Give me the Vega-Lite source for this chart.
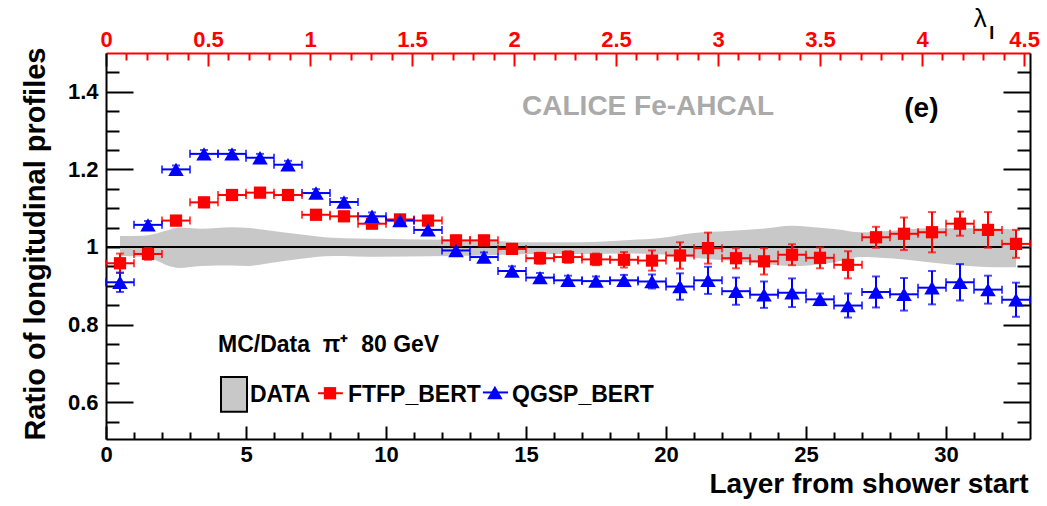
{
  "$schema": "https://vega.github.io/schema/vega-lite/v6.json",
  "width": 924,
  "height": 386,
  "autosize": {"type": "none"},
  "padding": {"left": 106, "top": 53, "right": 17, "bottom": 67},
  "background": "white",
  "config": {"view": {"stroke": null}},
  "data": {"values": [{"k": 1}]},
  "datasets": {
    "pts": [
      {"l": 0.5, "x0": 0, "x1": 1, "m": "FTFP_BERT", "r": 0.958, "lo": 0.933, "hi": 0.983},
      {"l": 1.5, "x0": 1, "x1": 2, "m": "FTFP_BERT", "r": 0.982, "lo": 0.967, "hi": 0.997},
      {"l": 2.5, "x0": 2, "x1": 3, "m": "FTFP_BERT", "r": 1.068, "lo": 1.056, "hi": 1.080},
      {"l": 3.5, "x0": 3, "x1": 4, "m": "FTFP_BERT", "r": 1.115, "lo": 1.103, "hi": 1.127},
      {"l": 4.5, "x0": 4, "x1": 5, "m": "FTFP_BERT", "r": 1.134, "lo": 1.124, "hi": 1.144},
      {"l": 5.5, "x0": 5, "x1": 6, "m": "FTFP_BERT", "r": 1.140, "lo": 1.130, "hi": 1.150},
      {"l": 6.5, "x0": 6, "x1": 7, "m": "FTFP_BERT", "r": 1.134, "lo": 1.124, "hi": 1.144},
      {"l": 7.5, "x0": 7, "x1": 8, "m": "FTFP_BERT", "r": 1.083, "lo": 1.073, "hi": 1.093},
      {"l": 8.5, "x0": 8, "x1": 9, "m": "FTFP_BERT", "r": 1.079, "lo": 1.069, "hi": 1.089},
      {"l": 9.5, "x0": 9, "x1": 10, "m": "FTFP_BERT", "r": 1.060, "lo": 1.050, "hi": 1.070},
      {"l": 10.5, "x0": 10, "x1": 11, "m": "FTFP_BERT", "r": 1.071, "lo": 1.061, "hi": 1.081},
      {"l": 11.5, "x0": 11, "x1": 12, "m": "FTFP_BERT", "r": 1.068, "lo": 1.056, "hi": 1.080},
      {"l": 12.5, "x0": 12, "x1": 13, "m": "FTFP_BERT", "r": 1.017, "lo": 1.005, "hi": 1.029},
      {"l": 13.5, "x0": 13, "x1": 14, "m": "FTFP_BERT", "r": 1.017, "lo": 1.005, "hi": 1.029},
      {"l": 14.5, "x0": 14, "x1": 15, "m": "FTFP_BERT", "r": 0.995, "lo": 0.983, "hi": 1.007},
      {"l": 15.5, "x0": 15, "x1": 16, "m": "FTFP_BERT", "r": 0.971, "lo": 0.957, "hi": 0.985},
      {"l": 16.5, "x0": 16, "x1": 17, "m": "FTFP_BERT", "r": 0.974, "lo": 0.959, "hi": 0.989},
      {"l": 17.5, "x0": 17, "x1": 18, "m": "FTFP_BERT", "r": 0.968, "lo": 0.953, "hi": 0.983},
      {"l": 18.5, "x0": 18, "x1": 19, "m": "FTFP_BERT", "r": 0.967, "lo": 0.947, "hi": 0.987},
      {"l": 19.5, "x0": 19, "x1": 20, "m": "FTFP_BERT", "r": 0.965, "lo": 0.939, "hi": 0.991},
      {"l": 20.5, "x0": 20, "x1": 21, "m": "FTFP_BERT", "r": 0.978, "lo": 0.944, "hi": 1.012},
      {"l": 21.5, "x0": 21, "x1": 22, "m": "FTFP_BERT", "r": 0.997, "lo": 0.957, "hi": 1.037},
      {"l": 22.5, "x0": 22, "x1": 23, "m": "FTFP_BERT", "r": 0.971, "lo": 0.945, "hi": 0.997},
      {"l": 23.5, "x0": 23, "x1": 24, "m": "FTFP_BERT", "r": 0.963, "lo": 0.929, "hi": 0.997},
      {"l": 24.5, "x0": 24, "x1": 25, "m": "FTFP_BERT", "r": 0.980, "lo": 0.953, "hi": 1.007},
      {"l": 25.5, "x0": 25, "x1": 26, "m": "FTFP_BERT", "r": 0.972, "lo": 0.945, "hi": 0.999},
      {"l": 26.5, "x0": 26, "x1": 27, "m": "FTFP_BERT", "r": 0.954, "lo": 0.919, "hi": 0.989},
      {"l": 27.5, "x0": 27, "x1": 28, "m": "FTFP_BERT", "r": 1.025, "lo": 0.998, "hi": 1.052},
      {"l": 28.5, "x0": 28, "x1": 29, "m": "FTFP_BERT", "r": 1.034, "lo": 0.992, "hi": 1.076},
      {"l": 29.5, "x0": 29, "x1": 30, "m": "FTFP_BERT", "r": 1.038, "lo": 0.986, "hi": 1.090},
      {"l": 30.5, "x0": 30, "x1": 31, "m": "FTFP_BERT", "r": 1.060, "lo": 1.029, "hi": 1.091},
      {"l": 31.5, "x0": 31, "x1": 32, "m": "FTFP_BERT", "r": 1.044, "lo": 0.998, "hi": 1.090},
      {"l": 32.5, "x0": 32, "x1": 33, "m": "FTFP_BERT", "r": 1.008, "lo": 0.972, "hi": 1.044},
      {"l": 0.5, "x0": 0, "x1": 1, "m": "QGSP_BERT", "r": 0.909, "lo": 0.884, "hi": 0.934},
      {"l": 1.5, "x0": 1, "x1": 2, "m": "QGSP_BERT", "r": 1.057, "lo": 1.047, "hi": 1.067},
      {"l": 2.5, "x0": 2, "x1": 3, "m": "QGSP_BERT", "r": 1.200, "lo": 1.190, "hi": 1.210},
      {"l": 3.5, "x0": 3, "x1": 4, "m": "QGSP_BERT", "r": 1.240, "lo": 1.230, "hi": 1.250},
      {"l": 4.5, "x0": 4, "x1": 5, "m": "QGSP_BERT", "r": 1.240, "lo": 1.230, "hi": 1.250},
      {"l": 5.5, "x0": 5, "x1": 6, "m": "QGSP_BERT", "r": 1.230, "lo": 1.220, "hi": 1.240},
      {"l": 6.5, "x0": 6, "x1": 7, "m": "QGSP_BERT", "r": 1.212, "lo": 1.202, "hi": 1.222},
      {"l": 7.5, "x0": 7, "x1": 8, "m": "QGSP_BERT", "r": 1.139, "lo": 1.129, "hi": 1.149},
      {"l": 8.5, "x0": 8, "x1": 9, "m": "QGSP_BERT", "r": 1.116, "lo": 1.106, "hi": 1.126},
      {"l": 9.5, "x0": 9, "x1": 10, "m": "QGSP_BERT", "r": 1.079, "lo": 1.069, "hi": 1.089},
      {"l": 10.5, "x0": 10, "x1": 11, "m": "QGSP_BERT", "r": 1.068, "lo": 1.058, "hi": 1.078},
      {"l": 11.5, "x0": 11, "x1": 12, "m": "QGSP_BERT", "r": 1.044, "lo": 1.032, "hi": 1.056},
      {"l": 12.5, "x0": 12, "x1": 13, "m": "QGSP_BERT", "r": 0.991, "lo": 0.979, "hi": 1.003},
      {"l": 13.5, "x0": 13, "x1": 14, "m": "QGSP_BERT", "r": 0.974, "lo": 0.962, "hi": 0.986},
      {"l": 14.5, "x0": 14, "x1": 15, "m": "QGSP_BERT", "r": 0.938, "lo": 0.926, "hi": 0.950},
      {"l": 15.5, "x0": 15, "x1": 16, "m": "QGSP_BERT", "r": 0.921, "lo": 0.909, "hi": 0.933},
      {"l": 16.5, "x0": 16, "x1": 17, "m": "QGSP_BERT", "r": 0.914, "lo": 0.902, "hi": 0.926},
      {"l": 17.5, "x0": 17, "x1": 18, "m": "QGSP_BERT", "r": 0.912, "lo": 0.900, "hi": 0.924},
      {"l": 18.5, "x0": 18, "x1": 19, "m": "QGSP_BERT", "r": 0.914, "lo": 0.900, "hi": 0.928},
      {"l": 19.5, "x0": 19, "x1": 20, "m": "QGSP_BERT", "r": 0.911, "lo": 0.893, "hi": 0.929},
      {"l": 20.5, "x0": 20, "x1": 21, "m": "QGSP_BERT", "r": 0.898, "lo": 0.864, "hi": 0.932},
      {"l": 21.5, "x0": 21, "x1": 22, "m": "QGSP_BERT", "r": 0.914, "lo": 0.879, "hi": 0.949},
      {"l": 22.5, "x0": 22, "x1": 23, "m": "QGSP_BERT", "r": 0.886, "lo": 0.851, "hi": 0.921},
      {"l": 23.5, "x0": 23, "x1": 24, "m": "QGSP_BERT", "r": 0.877, "lo": 0.843, "hi": 0.911},
      {"l": 24.5, "x0": 24, "x1": 25, "m": "QGSP_BERT", "r": 0.882, "lo": 0.845, "hi": 0.919},
      {"l": 25.5, "x0": 25, "x1": 26, "m": "QGSP_BERT", "r": 0.865, "lo": 0.850, "hi": 0.880},
      {"l": 26.5, "x0": 26, "x1": 27, "m": "QGSP_BERT", "r": 0.849, "lo": 0.818, "hi": 0.880},
      {"l": 27.5, "x0": 27, "x1": 28, "m": "QGSP_BERT", "r": 0.884, "lo": 0.844, "hi": 0.924},
      {"l": 28.5, "x0": 28, "x1": 29, "m": "QGSP_BERT", "r": 0.878, "lo": 0.836, "hi": 0.920},
      {"l": 29.5, "x0": 29, "x1": 30, "m": "QGSP_BERT", "r": 0.895, "lo": 0.852, "hi": 0.938},
      {"l": 30.5, "x0": 30, "x1": 31, "m": "QGSP_BERT", "r": 0.909, "lo": 0.862, "hi": 0.956},
      {"l": 31.5, "x0": 31, "x1": 32, "m": "QGSP_BERT", "r": 0.890, "lo": 0.854, "hi": 0.926},
      {"l": 32.5, "x0": 32, "x1": 33, "m": "QGSP_BERT", "r": 0.864, "lo": 0.820, "hi": 0.908}
    ],
    "band": [
      {"x": 0.5, "lo": 0.977, "hi": 1.028},
      {"x": 1.3, "lo": 0.975, "hi": 1.029},
      {"x": 1.8, "lo": 0.965, "hi": 1.035},
      {"x": 2.2, "lo": 0.952, "hi": 1.043},
      {"x": 2.6, "lo": 0.946, "hi": 1.050},
      {"x": 3.4, "lo": 0.951, "hi": 1.047},
      {"x": 4.5, "lo": 0.952, "hi": 1.051},
      {"x": 5.1, "lo": 0.951, "hi": 1.049},
      {"x": 5.7, "lo": 0.957, "hi": 1.044},
      {"x": 6.9, "lo": 0.969, "hi": 1.033},
      {"x": 8.1, "lo": 0.977, "hi": 1.024},
      {"x": 9.8, "lo": 0.975, "hi": 1.021},
      {"x": 11.5, "lo": 0.976, "hi": 1.019},
      {"x": 13.4, "lo": 0.978, "hi": 1.017},
      {"x": 15.1, "lo": 0.982, "hi": 1.012},
      {"x": 16.9, "lo": 0.982, "hi": 1.012},
      {"x": 18.7, "lo": 0.983, "hi": 1.018},
      {"x": 19.8, "lo": 0.981, "hi": 1.023},
      {"x": 21.0, "lo": 0.972, "hi": 1.036},
      {"x": 22.2, "lo": 0.965, "hi": 1.041},
      {"x": 23.4, "lo": 0.957, "hi": 1.047},
      {"x": 24.5, "lo": 0.951, "hi": 1.055},
      {"x": 25.7, "lo": 0.957, "hi": 1.048},
      {"x": 26.3, "lo": 0.965, "hi": 1.044},
      {"x": 26.9, "lo": 0.974, "hi": 1.038},
      {"x": 28.1, "lo": 0.970, "hi": 1.042},
      {"x": 29.3, "lo": 0.961, "hi": 1.048},
      {"x": 30.5, "lo": 0.952, "hi": 1.048},
      {"x": 31.7, "lo": 0.948, "hi": 1.047},
      {"x": 32.5, "lo": 0.948, "hi": 1.045}
    ]
  },
  "layer": [
    {
      "resolve": {"axis": {"x": "independent", "y": "independent"}},
      "layer": [
        {
          "data": {"name": "band"},
          "mark": {"type": "area", "color": "#c8c8c8", "interpolate": "monotone"},
          "encoding": {
            "x": {"field": "x", "type": "quantitative", "scale": {"domain": [0, 33], "nice": false, "zero": false},
              "axis": {"orient": "bottom", "values": [0, 5, 10, 15, 20, 25, 30], "format": "d", "tickSize": -13, "tickWidth": 2, "tickColor": "#000", "domain": true, "domainColor": "#000", "domainWidth": 2, "grid": false, "labelFont": "Liberation Sans", "labelFontSize": 22, "labelFontWeight": "bold", "labelColor": "#000", "labelPadding": 35, "labelBaseline": "alphabetic", "labelFlush": false, "labelOverlap": false, "labelBound": false, "title": "Layer from shower start", "titleFont": "Liberation Sans", "titleFontSize": 28, "titleFontWeight": "bold", "titleColor": "#000", "titleX": 922, "titleY": 53, "titleAlign": "right", "titleBaseline": "alphabetic", "titleAngle": 0}},
            "y": {"field": "lo", "type": "quantitative", "scale": {"domain": [0.505, 1.5], "nice": false, "zero": false},
              "axis": {"orient": "left", "values": [0.6, 0.8, 1, 1.2, 1.4], "format": "~g", "tickSize": -27, "tickWidth": 2, "tickColor": "#000", "domain": true, "domainColor": "#000", "domainWidth": 2, "grid": false, "labelFont": "Liberation Sans", "labelFontSize": 22, "labelFontWeight": "bold", "labelColor": "#000", "labelPadding": 35, "labelAlign": "right", "labelBaseline": "middle", "labelFlush": false, "labelOverlap": false, "labelBound": false, "title": "Ratio of longitudinal profiles", "titleFont": "Liberation Sans", "titleFontSize": 29, "titleFontWeight": "bold", "titleColor": "#000", "titleAngle": 270, "titleX": -62, "titleY": -6, "titleAlign": "right", "titleBaseline": "alphabetic"}},
            "y2": {"field": "hi"}
          }
        },
        {
          "mark": {"type": "rule", "color": "#000", "strokeWidth": 2},
          "encoding": {
            "x": {"datum": 0, "type": "quantitative", "scale": {"domain": [0, 33], "nice": false, "zero": false}, "axis": null},
            "x2": {"datum": 32},
            "y": {"datum": 1, "type": "quantitative", "scale": {"domain": [0.505, 1.5], "nice": false, "zero": false}, "axis": null}
          }
        },
        {
          "data": {"name": "pts"},
          "mark": {"type": "rule", "strokeWidth": 2},
          "encoding": {
            "x": {"field": "x0", "type": "quantitative", "scale": {"domain": [0, 33], "nice": false, "zero": false},
              "axis": {"orient": "bottom", "values": [1, 2, 3, 4, 6, 7, 8, 9, 11, 12, 13, 14, 16, 17, 18, 19, 21, 22, 23, 24, 26, 27, 28, 29, 31, 32], "tickSize": -7, "tickWidth": 2, "tickColor": "#000", "domain": false, "labels": false, "grid": false, "title": null}},
            "x2": {"field": "x1"},
            "y": {"field": "r", "type": "quantitative", "scale": {"domain": [0.505, 1.5], "nice": false, "zero": false},
              "axis": {"orient": "left", "values": [0.55, 0.65, 0.7, 0.75, 0.85, 0.9, 0.95, 1.05, 1.1, 1.15, 1.25, 1.3, 1.35, 1.45], "tickSize": -13, "tickWidth": 2, "tickColor": "#000", "domain": false, "labels": false, "grid": false, "title": null}},
            "color": {"field": "m", "type": "nominal", "scale": {"domain": ["FTFP_BERT", "QGSP_BERT"], "range": ["#ff0000", "#0000ff"]}, "legend": null}
          }
        },
        {
          "data": {"name": "pts"},
          "mark": {"type": "rule", "strokeWidth": 2},
          "encoding": {
            "x": {"field": "l", "type": "quantitative", "scale": {"domain": [0, 33], "nice": false, "zero": false}, "axis": null},
            "y": {"field": "lo", "type": "quantitative", "scale": {"domain": [0.505, 1.5], "nice": false, "zero": false},
              "axis": {"orient": "right", "values": [0.6, 0.8, 1, 1.2, 1.4], "tickSize": -27, "tickWidth": 2, "tickColor": "#000", "domain": true, "domainColor": "#000", "domainWidth": 2, "labels": false, "grid": false, "title": null}},
            "y2": {"field": "hi"},
            "color": {"field": "m", "type": "nominal", "scale": {"domain": ["FTFP_BERT", "QGSP_BERT"], "range": ["#ff0000", "#0000ff"]}, "legend": null}
          }
        },
        {
          "data": {"name": "pts"},
          "mark": {"type": "tick", "orient": "vertical", "size": 8, "thickness": 2},
          "encoding": {
            "x": {"field": "x0", "type": "quantitative", "scale": {"domain": [0, 33], "nice": false, "zero": false}, "axis": null},
            "y": {"field": "r", "type": "quantitative", "scale": {"domain": [0.505, 1.5], "nice": false, "zero": false},
              "axis": {"orient": "right", "values": [0.55, 0.65, 0.7, 0.75, 0.85, 0.9, 0.95, 1.05, 1.1, 1.15, 1.25, 1.3, 1.35, 1.45], "tickSize": -13, "tickWidth": 2, "tickColor": "#000", "domain": false, "labels": false, "grid": false, "title": null}},
            "color": {"field": "m", "type": "nominal", "scale": {"domain": ["FTFP_BERT", "QGSP_BERT"], "range": ["#ff0000", "#0000ff"]}, "legend": null}
          }
        },
        {
          "data": {"name": "pts"},
          "mark": {"type": "tick", "orient": "vertical", "size": 8, "thickness": 2},
          "encoding": {
            "x": {"field": "x1", "type": "quantitative", "scale": {"domain": [0, 33], "nice": false, "zero": false}, "axis": null},
            "y": {"field": "r", "type": "quantitative", "scale": {"domain": [0.505, 1.5], "nice": false, "zero": false}, "axis": null},
            "color": {"field": "m", "type": "nominal", "scale": {"domain": ["FTFP_BERT", "QGSP_BERT"], "range": ["#ff0000", "#0000ff"]}, "legend": null}
          }
        },
        {
          "data": {"name": "pts"},
          "mark": {"type": "tick", "orient": "horizontal", "size": 8, "thickness": 2},
          "encoding": {
            "x": {"field": "l", "type": "quantitative", "scale": {"domain": [0, 33], "nice": false, "zero": false}, "axis": null},
            "y": {"field": "lo", "type": "quantitative", "scale": {"domain": [0.505, 1.5], "nice": false, "zero": false}, "axis": null},
            "color": {"field": "m", "type": "nominal", "scale": {"domain": ["FTFP_BERT", "QGSP_BERT"], "range": ["#ff0000", "#0000ff"]}, "legend": null}
          }
        },
        {
          "data": {"name": "pts"},
          "mark": {"type": "tick", "orient": "horizontal", "size": 8, "thickness": 2},
          "encoding": {
            "x": {"field": "l", "type": "quantitative", "scale": {"domain": [0, 33], "nice": false, "zero": false}, "axis": null},
            "y": {"field": "hi", "type": "quantitative", "scale": {"domain": [0.505, 1.5], "nice": false, "zero": false}, "axis": null},
            "color": {"field": "m", "type": "nominal", "scale": {"domain": ["FTFP_BERT", "QGSP_BERT"], "range": ["#ff0000", "#0000ff"]}, "legend": null}
          }
        },
        {
          "data": {"name": "pts"},
          "transform": [{"filter": "datum.m == 'FTFP_BERT'"}],
          "mark": {"type": "point", "shape": "square", "filled": true, "size": 150, "color": "#ff0000", "opacity": 1},
          "encoding": {
            "x": {"field": "l", "type": "quantitative", "scale": {"domain": [0, 33], "nice": false, "zero": false}, "axis": null},
            "y": {"field": "r", "type": "quantitative", "scale": {"domain": [0.505, 1.5], "nice": false, "zero": false}, "axis": null}
          }
        },
        {
          "data": {"name": "pts"},
          "transform": [{"filter": "datum.m == 'QGSP_BERT'"}],
          "mark": {"type": "point", "shape": "triangle-up", "filled": true, "size": 240, "color": "#0000ff", "opacity": 1},
          "encoding": {
            "x": {"field": "l", "type": "quantitative", "scale": {"domain": [0, 33], "nice": false, "zero": false}, "axis": null},
            "y": {"field": "r", "type": "quantitative", "scale": {"domain": [0.505, 1.5], "nice": false, "zero": false}, "axis": null}
          }
        },
        {
          "mark": {"type": "text", "text": "CALICE Fe-AHCAL", "font": "Liberation Sans", "fontWeight": "bold", "fontSize": 28, "fill": "#aaaaaa", "align": "left", "baseline": "alphabetic"},
          "encoding": {
            "x": {"datum": 14.86, "type": "quantitative", "scale": {"domain": [0, 33], "nice": false, "zero": false}, "axis": null},
            "y": {"datum": 1.340, "type": "quantitative", "scale": {"domain": [0.505, 1.5], "nice": false, "zero": false}, "axis": null}
          }
        },
        {
          "mark": {"type": "text", "text": "(e)", "font": "Liberation Sans", "fontWeight": "bold", "fontSize": 28, "fill": "#000", "align": "center", "baseline": "alphabetic"},
          "encoding": {
            "x": {"datum": 29.12, "type": "quantitative", "scale": {"domain": [0, 33], "nice": false, "zero": false}, "axis": null},
            "y": {"datum": 1.335, "type": "quantitative", "scale": {"domain": [0.505, 1.5], "nice": false, "zero": false}, "axis": null}
          }
        },
        {
          "mark": {"type": "text", "text": "MC/Data\u00a0\u00a0π⁺\u00a0\u00a080 GeV", "font": "Liberation Sans", "fontWeight": "bold", "fontSize": 23, "fill": "#000", "align": "left", "baseline": "alphabetic"},
          "encoding": {
            "x": {"datum": 4.0, "type": "quantitative", "scale": {"domain": [0, 33], "nice": false, "zero": false}, "axis": null},
            "y": {"datum": 0.729, "type": "quantitative", "scale": {"domain": [0.505, 1.5], "nice": false, "zero": false}, "axis": null}
          }
        },
        {
          "mark": {"type": "rect", "fill": "#c8c8c8", "stroke": "#000", "strokeWidth": 2},
          "encoding": {
            "x": {"datum": 4.107, "type": "quantitative", "scale": {"domain": [0, 33], "nice": false, "zero": false}, "axis": null},
            "x2": {"datum": 5.036},
            "y": {"datum": 0.665, "type": "quantitative", "scale": {"domain": [0.505, 1.5], "nice": false, "zero": false}, "axis": null},
            "y2": {"datum": 0.575}
          }
        },
        {
          "mark": {"type": "text", "text": "DATA", "font": "Liberation Sans", "fontWeight": "bold", "fontSize": 23, "fill": "#000", "align": "left", "baseline": "alphabetic"},
          "encoding": {
            "x": {"datum": 5.14, "type": "quantitative", "scale": {"domain": [0, 33], "nice": false, "zero": false}, "axis": null},
            "y": {"datum": 0.601, "type": "quantitative", "scale": {"domain": [0.505, 1.5], "nice": false, "zero": false}, "axis": null}
          }
        },
        {
          "mark": {"type": "rule", "color": "#ff0000", "strokeWidth": 2},
          "encoding": {
            "x": {"datum": 7.57, "type": "quantitative", "scale": {"domain": [0, 33], "nice": false, "zero": false}, "axis": null},
            "x2": {"datum": 8.46},
            "y": {"datum": 0.623, "type": "quantitative", "scale": {"domain": [0.505, 1.5], "nice": false, "zero": false}, "axis": null}
          }
        },
        {
          "mark": {"type": "point", "shape": "square", "filled": true, "size": 150, "color": "#ff0000", "opacity": 1},
          "encoding": {
            "x": {"datum": 8.0, "type": "quantitative", "scale": {"domain": [0, 33], "nice": false, "zero": false}, "axis": null},
            "y": {"datum": 0.623, "type": "quantitative", "scale": {"domain": [0.505, 1.5], "nice": false, "zero": false}, "axis": null}
          }
        },
        {
          "mark": {"type": "text", "text": "FTFP_BERT", "font": "Liberation Sans", "fontWeight": "bold", "fontSize": 23, "fill": "#000", "align": "left", "baseline": "alphabetic"},
          "encoding": {
            "x": {"datum": 8.64, "type": "quantitative", "scale": {"domain": [0, 33], "nice": false, "zero": false}, "axis": null},
            "y": {"datum": 0.601, "type": "quantitative", "scale": {"domain": [0.505, 1.5], "nice": false, "zero": false}, "axis": null}
          }
        },
        {
          "mark": {"type": "rule", "color": "#0000ff", "strokeWidth": 2},
          "encoding": {
            "x": {"datum": 13.46, "type": "quantitative", "scale": {"domain": [0, 33], "nice": false, "zero": false}, "axis": null},
            "x2": {"datum": 14.36},
            "y": {"datum": 0.625, "type": "quantitative", "scale": {"domain": [0.505, 1.5], "nice": false, "zero": false}, "axis": null}
          }
        },
        {
          "mark": {"type": "point", "shape": "triangle-up", "filled": true, "size": 240, "color": "#0000ff", "opacity": 1},
          "encoding": {
            "x": {"datum": 13.89, "type": "quantitative", "scale": {"domain": [0, 33], "nice": false, "zero": false}, "axis": null},
            "y": {"datum": 0.625, "type": "quantitative", "scale": {"domain": [0.505, 1.5], "nice": false, "zero": false}, "axis": null}
          }
        },
        {
          "mark": {"type": "text", "text": "QGSP_BERT", "font": "Liberation Sans", "fontWeight": "bold", "fontSize": 23, "fill": "#000", "align": "left", "baseline": "alphabetic"},
          "encoding": {
            "x": {"datum": 14.5, "type": "quantitative", "scale": {"domain": [0, 33], "nice": false, "zero": false}, "axis": null},
            "y": {"datum": 0.601, "type": "quantitative", "scale": {"domain": [0.505, 1.5], "nice": false, "zero": false}, "axis": null}
          }
        },
        {
          "mark": {"type": "text", "text": "λ", "font": "Liberation Sans", "fontSize": 26, "fill": "#000", "align": "center", "baseline": "alphabetic"},
          "encoding": {
            "x": {"datum": 31.22, "type": "quantitative", "scale": {"domain": [0, 33], "nice": false, "zero": false}, "axis": null},
            "y": {"datum": 1.566, "type": "quantitative", "scale": {"domain": [0.505, 1.5], "nice": false, "zero": false}, "axis": null}
          }
        },
        {
          "mark": {"type": "text", "text": "I", "font": "Liberation Sans", "fontWeight": "bold", "fontSize": 18, "fill": "#000", "align": "center", "baseline": "alphabetic"},
          "encoding": {
            "x": {"datum": 31.63, "type": "quantitative", "scale": {"domain": [0, 33], "nice": false, "zero": false}, "axis": null},
            "y": {"datum": 1.536, "type": "quantitative", "scale": {"domain": [0.505, 1.5], "nice": false, "zero": false}, "axis": null}
          }
        }
      ]
    },
    {
      "data": {"values": [{"lam": 0}, {"lam": 4.5}]},
      "resolve": {"axis": {"x": "independent"}},
      "layer": [
        {
          "mark": {"type": "point", "opacity": 0},
          "encoding": {
            "x": {"field": "lam", "type": "quantitative", "scale": {"domain": [0, 4.529], "nice": false, "zero": false},
              "axis": {"orient": "top", "values": [0, 0.5, 1, 1.5, 2, 2.5, 3, 3.5, 4, 4.5], "format": "~g", "tickSize": -13, "tickWidth": 2, "tickColor": "#ff0000", "domain": true, "domainColor": "#ff0000", "domainWidth": 2, "grid": false, "labelFont": "Liberation Sans", "labelFontSize": 22, "labelFontWeight": "bold", "labelColor": "#ff0000", "labelPadding": 20, "labelBaseline": "alphabetic", "labelFlush": false, "labelOverlap": false, "labelBound": false, "title": null}}
          }
        },
        {
          "mark": {"type": "point", "opacity": 0},
          "encoding": {
            "x": {"field": "lam", "type": "quantitative", "scale": {"domain": [0, 4.529], "nice": false, "zero": false},
              "axis": {"orient": "top", "values": [0.1, 0.2, 0.3, 0.4, 0.6, 0.7, 0.8, 0.9, 1.1, 1.2, 1.3, 1.4, 1.6, 1.7, 1.8, 1.9, 2.1, 2.2, 2.3, 2.4, 2.6, 2.7, 2.8, 2.9, 3.1, 3.2, 3.3, 3.4, 3.6, 3.7, 3.8, 3.9, 4.1, 4.2, 4.3, 4.4], "tickSize": -7, "tickWidth": 2, "tickColor": "#ff0000", "domain": false, "labels": false, "grid": false, "title": null}}
          }
        }
      ]
    }
  ],
  "resolve": {"scale": {"x": "independent"}, "axis": {"x": "independent", "y": "independent"}}
}
